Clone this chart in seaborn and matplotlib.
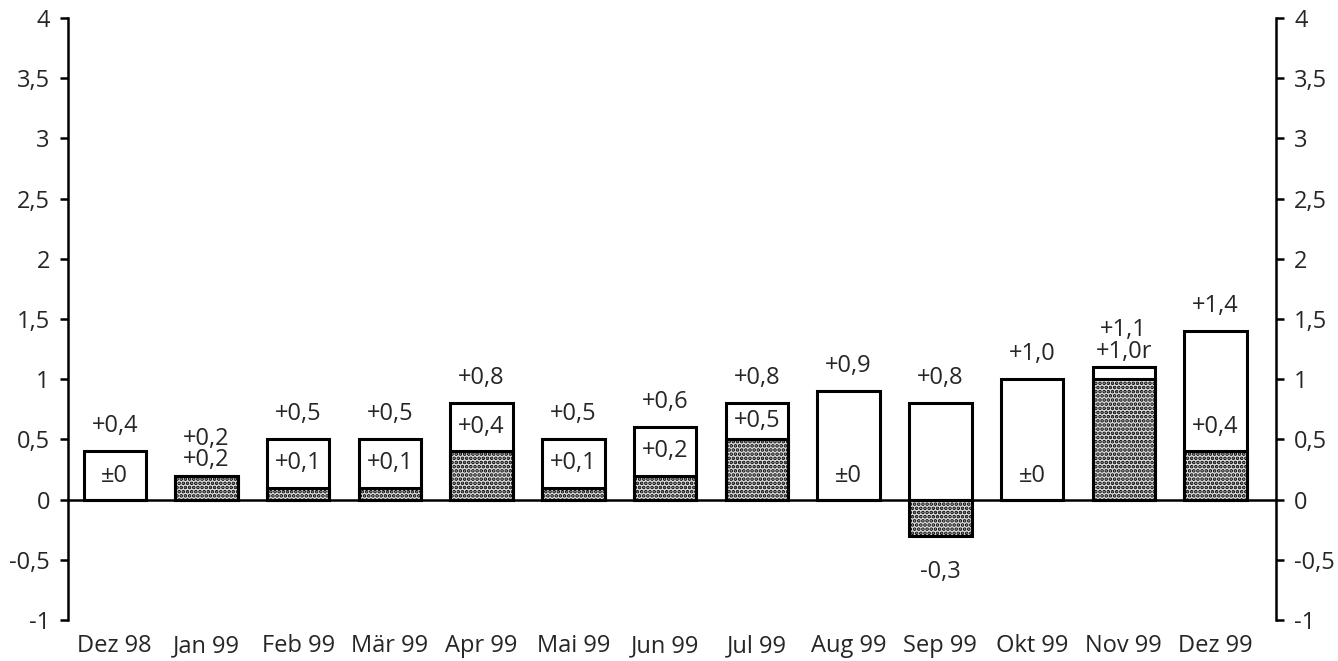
import matplotlib
matplotlib.use("Agg")
import matplotlib.pyplot as plt
import seaborn as sns
import pandas as pd

months = ["Dez 98", "Jan 99", "Feb 99", "Mär 99", "Apr 99", "Mai 99", "Jun 99",
          "Jul 99", "Aug 99", "Sep 99", "Okt 99", "Nov 99", "Dez 99"]
total = [0.4, 0.2, 0.5, 0.5, 0.8, 0.5, 0.6, 0.8, 0.9, 0.8, 1.0, 1.1, 1.4]
part = [0.0, 0.2, 0.1, 0.1, 0.4, 0.1, 0.2, 0.5, 0.0, -0.3, 0.0, 1.0, 0.4]
total_labels = ["+0,4", "+0,2", "+0,5", "+0,5", "+0,8", "+0,5", "+0,6",
                "+0,8", "+0,9", "+0,8", "+1,0", "+1,1", "+1,4"]
part_labels = ["±0", "+0,2", "+0,1", "+0,1", "+0,4", "+0,1", "+0,2",
               "+0,5", "±0", "-0,3", "±0", "+1,0r", "+0,4"]
yticks = [-1, -0.5, 0, 0.5, 1, 1.5, 2, 2.5, 3, 3.5, 4]

df = pd.DataFrame({"month": months, "total": total, "part": part})

sns.set_theme(style="white")
plt.rcParams["font.family"] = ["Open Sans", "DejaVu Sans"]
plt.rcParams["hatch.linewidth"] = 1.8
plt.rcParams["hatch.color"] = "black"

fig = plt.figure(figsize=(13.38, 6.61), dpi=100)
ax = fig.add_axes([0.0508, 0.062, 0.9029, 0.9108])

# white bars: total change
sns.barplot(data=df, x="month", y="total", ax=ax, color="white",
            edgecolor="black", linewidth=2.2, width=0.68, saturation=1)
# dotted bars: component
sns.barplot(data=df, x="month", y="part", ax=ax, color="#dedede",
            edgecolor="black", linewidth=2.2, width=0.68, saturation=1,
            hatch="....")

ax.axhline(0, color="black", lw=1.8, zorder=5)

fs = 17
for i in range(len(months)):
    t, p = total[i], part[i]
    if t - p < 0.15:
        # labels stacked above the bar
        ax.annotate(part_labels[i], (i, t), xytext=(0, 11), textcoords="offset points",
                    ha="center", va="center", fontsize=fs)
        ax.annotate(total_labels[i], (i, t), xytext=(0, 26.5), textcoords="offset points",
                    ha="center", va="center", fontsize=fs)
        continue
    ax.annotate(total_labels[i], (i, t), xytext=(0, 18), textcoords="offset points",
                ha="center", va="center", fontsize=fs)
    if p < 0:
        ax.annotate(part_labels[i], (i, p), xytext=(0, -26), textcoords="offset points",
                    ha="center", va="center", fontsize=fs)
    else:
        y_in = min((t + p) / 2, p + 0.2)
        ax.text(i, y_in, part_labels[i], ha="center", va="center", fontsize=fs)

ax.set_xlim(-0.51, 12.66)
ax.set_ylim(-1, 4)
ax.set_yticks(yticks)
ax.set_yticklabels([f"{v:g}".replace(".", ",") for v in yticks])
ax.set_xlabel("")
ax.set_ylabel("")

for side in ["top", "bottom"]:
    ax.spines[side].set_visible(False)
for side in ["left", "right"]:
    ax.spines[side].set_visible(True)
    ax.spines[side].set_color("black")
    ax.spines[side].set_linewidth(1.8)

ax.tick_params(axis="y", which="both", left=True, right=True, labelleft=True,
               labelright=True, direction="out", length=6, width=1.8,
               color="black", labelsize=fs, pad=7)
ax.tick_params(axis="x", length=0, labelsize=fs, pad=10)

plt.savefig("out.png", dpi=100)
